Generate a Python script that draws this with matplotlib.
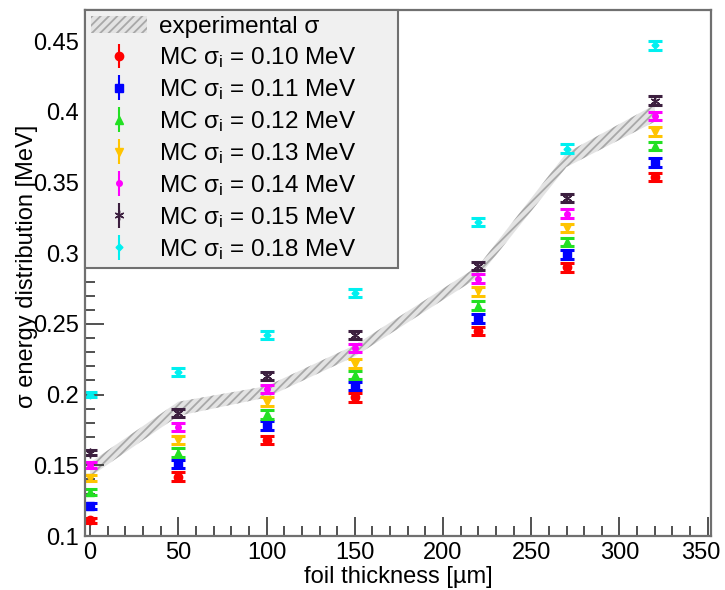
import matplotlib
matplotlib.use("Agg")
import matplotlib.pyplot as plt
import matplotlib.transforms as mtransforms
import numpy as np
from matplotlib.ticker import MultipleLocator

plt.rcParams["font.family"] = ["Liberation Sans", "DejaVu Sans"]
plt.rcParams["hatch.color"] = "#a8a8a8"
plt.rcParams["hatch.linewidth"] = 1.3

# foil thickness [um]
thickness = [0, 50, 100, 150, 220, 270, 320]

# experimental sigma band (centre and half width) [MeV]
exp_sigma = [0.147, 0.190, 0.202, 0.231, 0.287, 0.366, 0.399]
exp_width = [0.005, 0.005, 0.004, 0.004, 0.004, 0.005, 0.006]

# MC results for different initial sigma
mc_labels = ["0.10", "0.11", "0.12", "0.13", "0.14", "0.15", "0.18"]
mc_010 = [0.111, 0.142, 0.168, 0.198, 0.245, 0.290, 0.354]
mc_011 = [0.121, 0.151, 0.178, 0.206, 0.254, 0.299, 0.364]
mc_012 = [0.131, 0.159, 0.186, 0.214, 0.263, 0.308, 0.376]
mc_013 = [0.141, 0.168, 0.195, 0.222, 0.273, 0.318, 0.386]
mc_014 = [0.150, 0.177, 0.204, 0.233, 0.282, 0.328, 0.397]
mc_015 = [0.159, 0.187, 0.213, 0.242, 0.291, 0.339, 0.408]
mc_018 = [0.200, 0.216, 0.242, 0.272, 0.322, 0.374, 0.447]
mc_err = [0.002, 0.003, 0.003, 0.003, 0.003, 0.003, 0.003]

mc_series = [mc_010, mc_011, mc_012, mc_013, mc_014, mc_015, mc_018]
colors = ["#ff0000", "#0000ff", "#22e022", "#ffc400", "#ff00ff", "#3c1f3f", "#00f0f0"]
markers = ["o", "s", "^", "v", "o", (6, 2, 0), "D"]
msizes = [6, 6, 6, 6, 4, 7, 3.5]

fig = plt.figure(figsize=(7.25, 5.9), dpi=100)
ax = fig.add_axes([0.117, 0.0915, 0.864, 0.8915])

lo = [c - w for c, w in zip(exp_sigma, exp_width)]
hi = [c + w for c, w in zip(exp_sigma, exp_width)]
band = ax.fill_between(thickness, lo, hi, facecolor="#e3e3e3", edgecolor="#a8a8a8",
                       hatch="////", linewidth=0, label="experimental σ")

handles = [band]
for vals, lab, col, mk, ms in zip(mc_series, mc_labels, colors, markers, msizes):
    ax.errorbar(thickness, vals, yerr=mc_err, linestyle="none", marker=mk,
                color=col, ms=ms, mec=col, mfc=col, elinewidth=1.5,
                capsize=5, capthick=2.2)
    # legend entry: marker with plain vertical bar, no caps
    proxy = ax.errorbar([np.nan], [np.nan], yerr=[1], linestyle="none", marker=mk,
                        color=col, ms=ms, mec=col, mfc=col, elinewidth=1.5,
                        capsize=0,
                        label=r"MC $\mathregular{\sigma_i}$ = " + lab + " MeV")
    handles.append(proxy)

ax.set_xlim(-3, 352)
ax.set_ylim(0.1, 0.472)
ax.xaxis.set_major_locator(MultipleLocator(50))
ax.xaxis.set_minor_locator(MultipleLocator(10))
ax.yaxis.set_major_locator(MultipleLocator(0.05))
ax.yaxis.set_minor_locator(MultipleLocator(0.01))
ax.xaxis.set_major_formatter(lambda v, p: f"{v:g}")
ax.yaxis.set_major_formatter(lambda v, p: f"{v:g}")
ax.tick_params(which="both", direction="in", top=False, right=False,
               labelsize=17, color="#333333")
ax.tick_params(which="major", length=14, width=1.2, pad=4)
ax.tick_params(which="minor", length=7, width=1.2)
for s in ax.spines.values():
    s.set_color("#707070")
    s.set_linewidth(1.6)

ax.set_xlabel("foil thickness [µm]", fontsize=17, labelpad=2)
ax.set_ylabel("σ energy distribution [MeV]", fontsize=17)
ax.yaxis.set_label_coords(-0.075, 0.513)

leg = ax.legend(handles=handles, loc="upper left", bbox_to_anchor=(0.0, 0.0, 0.5, 1.0),
                mode="expand", borderaxespad=0, fontsize=17.5, frameon=True,
                fancybox=False, labelspacing=0.29, handlelength=2.3,
                handletextpad=0.5, borderpad=0.25)
leg.get_frame().set_facecolor("#f0f0f0")
leg.get_frame().set_edgecolor("#707070")
leg.get_frame().set_linewidth(1.5)
leg.get_frame().set_alpha(1)

# keep the "350" tick label inside the canvas, as in the reference
fig.canvas.draw()
for tick in ax.xaxis.get_major_ticks():
    if tick.label1.get_text() == "350":
        tick.label1.set_transform(tick.label1.get_transform() +
                                  mtransforms.ScaledTranslation(-5 / 72, 0, fig.dpi_scale_trans))

fig.savefig("out.png", dpi=100)
